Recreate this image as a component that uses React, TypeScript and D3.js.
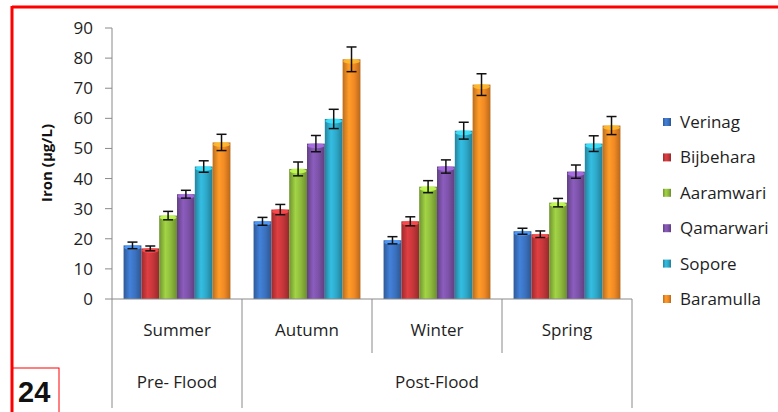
import React from "react";
import * as d3 from "d3";

const categories = ["Summer", "Autumn", "Winter", "Spring"];
const groups = [
  { label: "Pre- Flood", from: 0, to: 0 },
  { label: "Post-Flood", from: 1, to: 3 },
];
const series = ["Verinag", "Bijbehara", "Aaramwari", "Qamarwari", "Sopore", "Baramulla"];
const colors = ["#3b72c0", "#c6373a", "#8fbb3d", "#7c52a8", "#2ea8c8", "#f28a24"];
// values[series][category]
const values = [
  [17.8, 25.8, 19.5, 22.5],
  [16.8, 29.7, 25.8, 21.5],
  [27.7, 43.2, 37.3, 32.0],
  [34.8, 51.6, 44.0, 42.3],
  [44.0, 59.8, 55.9, 51.6],
  [52.0, 79.6, 71.2, 57.6],
];
const errors = [
  [1.1, 1.3, 1.2, 1.0],
  [0.8, 1.7, 1.5, 1.1],
  [1.4, 2.3, 2.0, 1.4],
  [1.3, 2.7, 2.2, 2.2],
  [1.9, 3.2, 2.8, 2.6],
  [2.7, 4.1, 3.6, 3.0],
];
const yTicks = [0, 10, 20, 30, 40, 50, 60, 70, 80, 90];
const yLabel = "Iron (µg/L)";
const badge = "24";

const W = 778;
const H = 412;
const FONT = "'Open Sans', 'Noto Sans', sans-serif";

export default function App() {
  const y = d3.scaleLinear().domain([0, 90]).range([299, 28]);
  const x0 = d3.scaleBand<string>().domain(categories).range([112, 632]).paddingInner(0).paddingOuter(0);
  const x1 = d3
    .scaleBand<string>()
    .domain(series)
    .range([0, x0.bandwidth()])
    .paddingInner(0)
    .paddingOuter(0.65);
  const legendY = d3.scalePoint<string>().domain(series).range([122, 299]);
  const axisColor = "#8a8a8a";
  const textColor = "#1e1e1e";

  return (
    <svg
      width={W}
      height={H}
      style={{ position: "absolute", left: 0, top: 0, background: "#fff" }}
      fontFamily={FONT}
    >
      <defs>
        {colors.map((c, i) => {
          const base = d3.color(c)!;
          return (
            <linearGradient key={i} id={`g${i}`} x1="0" x2="1" y1="0" y2="0">
              <stop offset="0%" stopColor={base.darker(0.7).toString()} />
              <stop offset="35%" stopColor={base.brighter(0.35).toString()} />
              <stop offset="65%" stopColor={base.toString()} />
              <stop offset="100%" stopColor={base.darker(0.8).toString()} />
            </linearGradient>
          );
        })}
      </defs>
      <rect x={0} y={0} width={W} height={H} fill="#fff" />

      {/* red frame */}
      <line x1={12} x2={W} y1={7} y2={7} stroke="#f00" strokeWidth={3} />
      <line x1={12} x2={12} y1={6} y2={H} stroke="#f00" strokeWidth={3} />
      <rect x={12} y={368} width={47} height={50} fill="none" stroke="#f00" strokeWidth={1} />
      <text x={18} y={402} fontSize={29} fontWeight="bold" fill="#111" fontFamily="'Liberation Sans', Arial, sans-serif">
        {badge}
      </text>

      {/* y axis */}
      <line x1={112} x2={112} y1={y(90)} y2={y(0)} stroke={axisColor} />
      {yTicks.map((t) => (
        <g key={t}>
          <line x1={105} x2={112} y1={y(t)} y2={y(t)} stroke={axisColor} />
          <text x={93} y={y(t)} dy="0.35em" textAnchor="end" fontSize={17} fill={textColor}>
            {t}
          </text>
        </g>
      ))}
      <text
        transform={`translate(52,${163}) rotate(-90)`}
        textAnchor="middle"
        fontSize={15}
        fontWeight="bold"
        fill="#111"
      >
        {yLabel}
      </text>

      {/* bars */}
      {categories.map((cat, ci) => (
        <g key={cat} transform={`translate(${x0(cat)},0)`}>
          {series.map((s, si) => {
            const v = values[si][ci];
            const e = errors[si][ci];
            const bx = x1(s)!;
            const bw = x1.bandwidth();
            const cx = bx + bw / 2;
            const top = y(v);
            const base = d3.color(colors[si])!;
            return (
              <g key={s}>
                <rect x={bx} y={top} width={bw} height={y(0) - top} fill={`url(#g${si})`} />
                <ellipse cx={cx} cy={top + 2} rx={bw / 2 - 0.5} ry={2.5} fill={base.brighter(0.9).toString()} opacity={0.85} />
                <line x1={cx} x2={cx} y1={y(v + e)} y2={y(v - e)} stroke="#111" strokeWidth={1.5} />
                <line x1={cx - 5} x2={cx + 5} y1={y(v + e)} y2={y(v + e)} stroke="#111" strokeWidth={1.5} />
                <line x1={cx - 5} x2={cx + 5} y1={y(v - e)} y2={y(v - e)} stroke="#111" strokeWidth={1.5} />
              </g>
            );
          })}
        </g>
      ))}

      {/* x axis */}
      <line x1={112} x2={632} y1={y(0)} y2={y(0)} stroke={axisColor} />
      {[0, 1, 2, 3, 4].map((i) => {
        const xx = 112 + i * x0.bandwidth();
        const isGroupEdge = i === 0 || i === 1 || i === 4;
        return (
          <line key={i} x1={xx} x2={xx} y1={y(0)} y2={isGroupEdge ? 408 : 353} stroke={axisColor} />
        );
      })}
      {categories.map((cat) => (
        <text
          key={cat}
          x={x0(cat)! + x0.bandwidth() / 2}
          y={330}
          dy="0.35em"
          textAnchor="middle"
          fontSize={17}
          fill={textColor}
        >
          {cat}
        </text>
      ))}
      {groups.map((g) => {
        const xa = x0(categories[g.from])!;
        const xb = x0(categories[g.to])! + x0.bandwidth();
        return (
          <text key={g.label} x={(xa + xb) / 2} y={382} dy="0.35em" textAnchor="middle" fontSize={17} fill={textColor}>
            {g.label}
          </text>
        );
      })}

      {/* legend */}
      {series.map((s, si) => {
        const ly = legendY(s)!;
        return (
          <g key={s}>
            <rect x={663} y={ly - 4} width={8} height={8} fill={`url(#g${si})`} />
            <text x={680} y={ly} dy="0.35em" fontSize={17} fill={textColor}>
              {s}
            </text>
          </g>
        );
      })}
    </svg>
  );
}
